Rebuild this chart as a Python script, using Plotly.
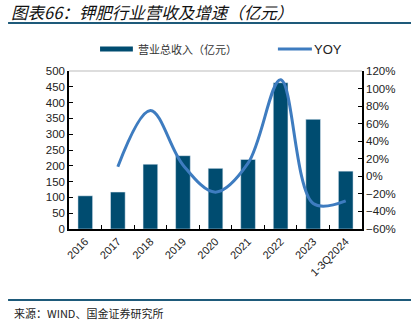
import plotly.graph_objects as go

categories = ["2016", "2017", "2018", "2019", "2020", "2021", "2022", "2023", "1-3Q2024"]
revenue = [105, 117, 205, 232, 192, 220, 463, 347, 183]
yoy_cats = categories[1:]
yoy = [11, 75, 13, -18, 15, 110, -31, -28]

bar_color = "#004C70"
line_color = "#3E7CC0"
font_num = "Liberation Sans, Arial, sans-serif"
font_cjk = "Noto Sans CJK SC, sans-serif"

fig = go.Figure()
fig.add_trace(go.Bar(x=categories, y=revenue, marker_color=bar_color, name="营业总收入（亿元）", showlegend=False))
fig.add_trace(go.Scatter(x=yoy_cats, y=yoy, yaxis="y2", mode="lines",
                         line=dict(color=line_color, width=3, shape="spline", smoothing=1.0),
                         name="YOY", showlegend=False))

fig.update_layout(
    width=411, height=322,
    margin=dict(l=69, r=49, t=71, b=93),
    paper_bgcolor="white", plot_bgcolor="white",
    bargap=0.55,
    font=dict(family=font_num, size=11, color="#222"),
    xaxis=dict(type="category", tickangle=-45, ticks="inside", tickson="boundaries", ticklen=4,
               tickcolor="black", showline=True, linecolor="black", linewidth=1.5,
               showgrid=False, tickfont=dict(size=11, family=font_num)),
    yaxis=dict(range=[0, 500], dtick=50, ticks="inside", ticklen=4, tickcolor="black",
               showline=True, linecolor="black", linewidth=1.5, showgrid=False, zeroline=False,
               tickfont=dict(size=11.5, family=font_num)),
    yaxis2=dict(range=[-60, 120], dtick=20, overlaying="y", side="right", ticks="inside", ticklen=4,
                tickcolor="black", ticksuffix="%", showline=True, linecolor="black", linewidth=1.5,
                showgrid=False, zeroline=False, tickfont=dict(size=11.5, family=font_num)),
    showlegend=False,
)

shapes = [
    dict(type="line", xref="paper", yref="paper", x0=0, x1=1, y0=1, y1=1, line=dict(color="#BBBBBB", width=1)),
    dict(type="line", xref="paper", yref="paper", x0=-0.208, x1=1.17, y0=1.304, y1=1.304, line=dict(color="#1E5A7A", width=2)),
    dict(type="line", xref="paper", yref="paper", x0=-0.208, x1=1.17, y0=-0.449, y1=-0.449, line=dict(color="#1E5A7A", width=2)),
    dict(type="rect", xref="paper", yref="paper", x0=0.106, x1=0.218, y0=1.124, y1=1.155, fillcolor=bar_color, line=dict(width=0)),
    dict(type="line", xref="paper", yref="paper", x0=0.713, x1=0.829, y0=1.139, y1=1.139, line=dict(color=line_color, width=3)),
]
fig.update_layout(shapes=shapes)

annotations = [
    dict(text="<i>图表66：钾肥行业营收及增速（亿元）</i>", xref="paper", yref="paper", x=-0.205, y=1.373,
         xanchor="left", yanchor="middle", showarrow=False, font=dict(family=font_cjk, size=16.5, color="#111")),
    dict(text="营业总收入（亿元）", xref="paper", yref="paper", x=0.228, y=1.139, xanchor="left", yanchor="middle",
         showarrow=False, font=dict(family=font_cjk, size=11, color="#333")),
    dict(text="YOY", xref="paper", yref="paper", x=0.829, y=1.139, xanchor="left", yanchor="middle",
         showarrow=False, font=dict(family=font_num, size=13, color="#222")),
    dict(text="来源：WIND、国金证券研究所", xref="paper", yref="paper", x=-0.195, y=-0.532, xanchor="left", yanchor="middle",
         showarrow=False, font=dict(family=font_cjk, size=11, color="#222")),
]
fig.update_layout(annotations=annotations)

fig.write_html("out.html")
